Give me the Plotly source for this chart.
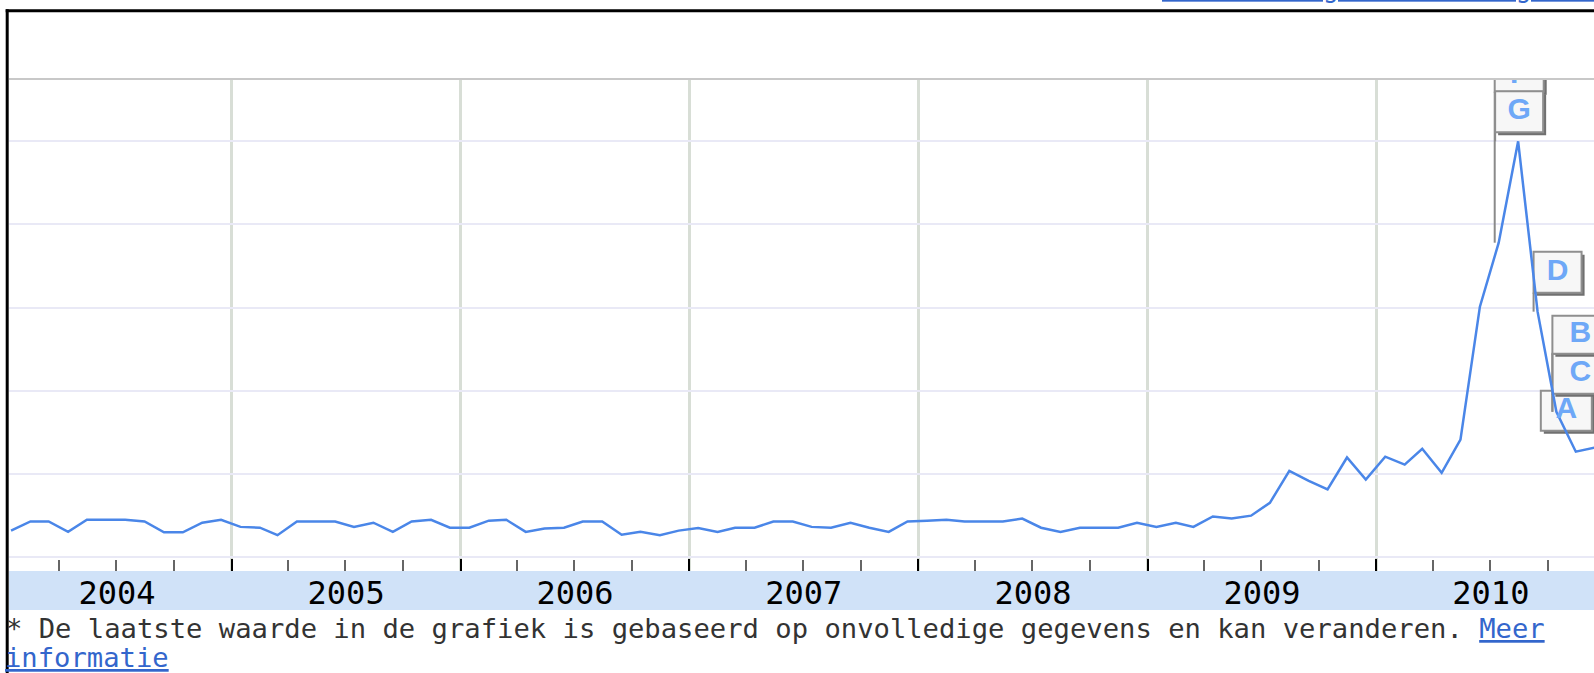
import pandas as pd
import plotly.graph_objects as go

# ---------------- data (monthly search index) -------------
years = [2004, 2005, 2006, 2007, 2008, 2009, 2010]
values_2004 = [6.3, 8.5, 8.5, 6.0, 8.9, 8.9, 8.9, 8.5, 5.9, 5.9, 8.2, 8.9]
values_2005 = [7.2, 7.0, 5.2, 8.5, 8.5, 8.5, 7.2, 8.2, 6.0, 8.5, 8.9, 7.0]
values_2006 = [7.0, 8.7, 8.9, 6.0, 6.8, 7.0, 8.5, 8.5, 5.3, 6.0, 5.2, 6.3]
values_2007 = [6.9, 6.0, 7.0, 7.0, 8.5, 8.5, 7.2, 7.0, 8.2, 7.0, 6.0, 8.5]
values_2008 = [8.7, 8.9, 8.5, 8.5, 8.5, 9.2, 7.0, 6.0, 7.0, 7.0, 7.0, 8.2]
values_2009 = [7.2, 8.2, 7.2, 9.7, 9.2, 9.9, 13.0, 20.7, 18.3, 16.2, 23.9, 18.6]
values_2010 = [24.1, 22.2, 26.0, 20.2, 28.2, 60.2, 75.6, 100.0, 59.0, 34.9, 25.3, 26.3]

months = [f"{y}-{m:02d}-15" for y in years for m in range(1, 13)]
values = (values_2004 + values_2005 + values_2006 + values_2007 +
          values_2008 + values_2009 + values_2010)

# news flags: letter and the month the flag points to
flag_letters = ["A", "C", "B", "D", "F", "G"]
flag_months = ["2010-11-15", "2010-10-15", "2010-10-15", "2010-09-15", "2010-07-15", "2010-08-15"]

footer_text = "* De laatste waarde in de grafiek is gebaseerd op onvolledige gegevens en kan veranderen. "
footer_link1 = "Meer"
footer_link2 = "informatie"
top_link = "Nieuws in grafiek weergeven"

# ---------------- layout constants -------------
W, H = 1594, 673
M_L, M_R, M_T, M_B = 9, 0, 79, 102
X_RANGE = ["2004-01-11 18:00", "2010-12-14"]
Y_RANGE = [-3.42, 115.0]
plot_w = W - M_L - M_R
plot_h = H - M_T - M_B
days_span = (pd.Timestamp(X_RANGE[1]) - pd.Timestamp(X_RANGE[0])).total_seconds() / 86400
px_per_day = plot_w / days_span
units_per_px = (Y_RANGE[1] - Y_RANGE[0]) / plot_h

LINE_BLUE = "#4a86e8"
LINK_BLUE = "#3366cc"
MONO = "DejaVu Sans Mono"
FLAG_FONT = "Liberation Sans"

# box geometry in pixels relative to the pointed data point (x right, y up)
flag_geom = {
    "A": dict(x0=-35, x1=16, y0=21, y1=61, pole=None),
    "C": dict(x0=-4, x1=52, y0=18, y1=58, pole=18),
    "B": dict(x0=-4, x1=52, y0=58, y1=96, pole=58),
    "D": dict(x0=-4, x1=44, y0=19, y1=60, pole=19),
    "F": dict(x0=-4, x1=45, y0=151, y1=183, pole=151),
    "G": dict(x0=-23, x1=25, y0=9, y1=50, pole=9),
}

fig = go.Figure()
fig.add_trace(go.Scatter(
    x=months, y=values, mode="lines",
    line=dict(color=LINE_BLUE, width=2.5),
    hoverinfo="skip", showlegend=False,
))

shapes = []
shapes.append(dict(type="rect", xref="paper", yref="paper", x0=0, x1=1, y0=-39 / plot_h, y1=0,
                   fillcolor="#d0e2f8", line=dict(width=0), layer="below"))
shapes.append(dict(type="line", xref="paper", yref="paper", x0=0, x1=1, y0=1, y1=1,
                   line=dict(color="#c8c8c8", width=2), layer="above"))
top_y = (plot_h + M_T - 10.7) / plot_h
left_x = (7.2 - M_L) / plot_w
shapes.append(dict(type="line", xref="paper", yref="paper", x0=(5.7 - M_L) / plot_w, x1=1.0,
                   y0=top_y, y1=top_y, line=dict(color="black", width=3), layer="above"))
shapes.append(dict(type="line", xref="paper", yref="paper", x0=left_x, x1=left_x,
                   y0=-(M_B + 2) / plot_h, y1=top_y + 1.5 / plot_h,
                   line=dict(color="black", width=3), layer="above"))

lookup = dict(zip(months, values))
letter_x, letter_y = [], []
for letter, month in zip(flag_letters, flag_months):
    g = flag_geom[letter]
    yv = lookup[month]
    base = dict(xref="x", yref="y", xsizemode="pixel", ysizemode="pixel",
                xanchor=month, yanchor=yv, layer="between")
    if g["pole"] is not None:
        shapes.append(dict(type="line", x0=g["x0"], x1=g["x0"], y0=0, y1=g["pole"],
                           line=dict(color="#8a8a8a", width=2), **base))
    shapes.append(dict(type="rect", x0=g["x0"] + 3, x1=g["x1"] + 3, y0=g["y0"] - 3, y1=g["y1"] - 3,
                       fillcolor="#707070", line=dict(width=0), **base))
    shapes.append(dict(type="rect", x0=g["x0"], x1=g["x1"], y0=g["y0"], y1=g["y1"],
                       fillcolor="#f7f7f7", line=dict(color="#8f8f8f", width=2), **base))
    cx = (g["x0"] + g["x1"]) / 2
    cy = (g["y0"] + g["y1"]) / 2
    letter_x.append(pd.Timestamp(month) + pd.Timedelta(days=cx / px_per_day))
    letter_y.append(yv + cy * units_per_px)

fig.add_trace(go.Scatter(
    x=letter_x, y=letter_y, mode="text", text=flag_letters, textposition="middle center",
    textfont=dict(family=FLAG_FONT, size=30, color="#6ea8f7", weight="bold"),
    cliponaxis=True, hoverinfo="skip", showlegend=False,
))

def py_to_paper(py):
    return (M_T + plot_h - py) / plot_h

annotations = [
    dict(xref="paper", yref="paper", x=(4 - M_L) / plot_w, y=py_to_paper(628), xanchor="left",
         yanchor="middle", showarrow=False,
         text=footer_text + f"<span style='color:{LINK_BLUE}'><u>{footer_link1}</u></span>",
         font=dict(family=MONO, size=27.2, color="#333333")),
    dict(xref="paper", yref="paper", x=(3 - M_L) / plot_w, y=py_to_paper(657), xanchor="left",
         yanchor="middle", showarrow=False, text=f"<u>{footer_link2}</u>",
         font=dict(family=MONO, size=27.2, color=LINK_BLUE)),
    dict(xref="paper", yref="paper", x=(1160 - M_L) / plot_w, y=py_to_paper(5), xanchor="left",
         yanchor="bottom", showarrow=False, text=f"<u>{top_link}</u>",
         font=dict(family=MONO, size=26.7, color=LINK_BLUE)),
]

fig.update_layout(
    width=W, height=H,
    margin=dict(l=M_L, r=M_R, t=M_T, b=M_B, pad=0),
    paper_bgcolor="white", plot_bgcolor="white",
    showlegend=False, hovermode=False,
    shapes=shapes, annotations=annotations,
    xaxis=dict(
        type="date", range=X_RANGE,
        tick0="2004-01-01", dtick="M12", tickformat="%Y", ticklabelmode="period",
        ticks="inside", ticklen=12, tickwidth=2, tickcolor="black",
        showgrid=True, gridcolor="#d8ded6", gridwidth=3,
        minor=dict(dtick="M3", ticks="inside", ticklen=11, tickwidth=2, tickcolor="#666666",
                   showgrid=False),
        showline=False, zeroline=False, automargin=False,
        tickfont=dict(family=MONO, size=32, color="black"),
        fixedrange=True,
    ),
    yaxis=dict(
        range=Y_RANGE, tickvals=[0, 20, 40, 60, 80, 100], showticklabels=False,
        showgrid=True, gridcolor="#e9e9f6", gridwidth=2, zeroline=False, showline=False,
        ticks="", automargin=False, fixedrange=True,
    ),
)

fig.write_html("out.html", config={"displayModeBar": False},
               post_script="document.body.style.margin='0px';")
